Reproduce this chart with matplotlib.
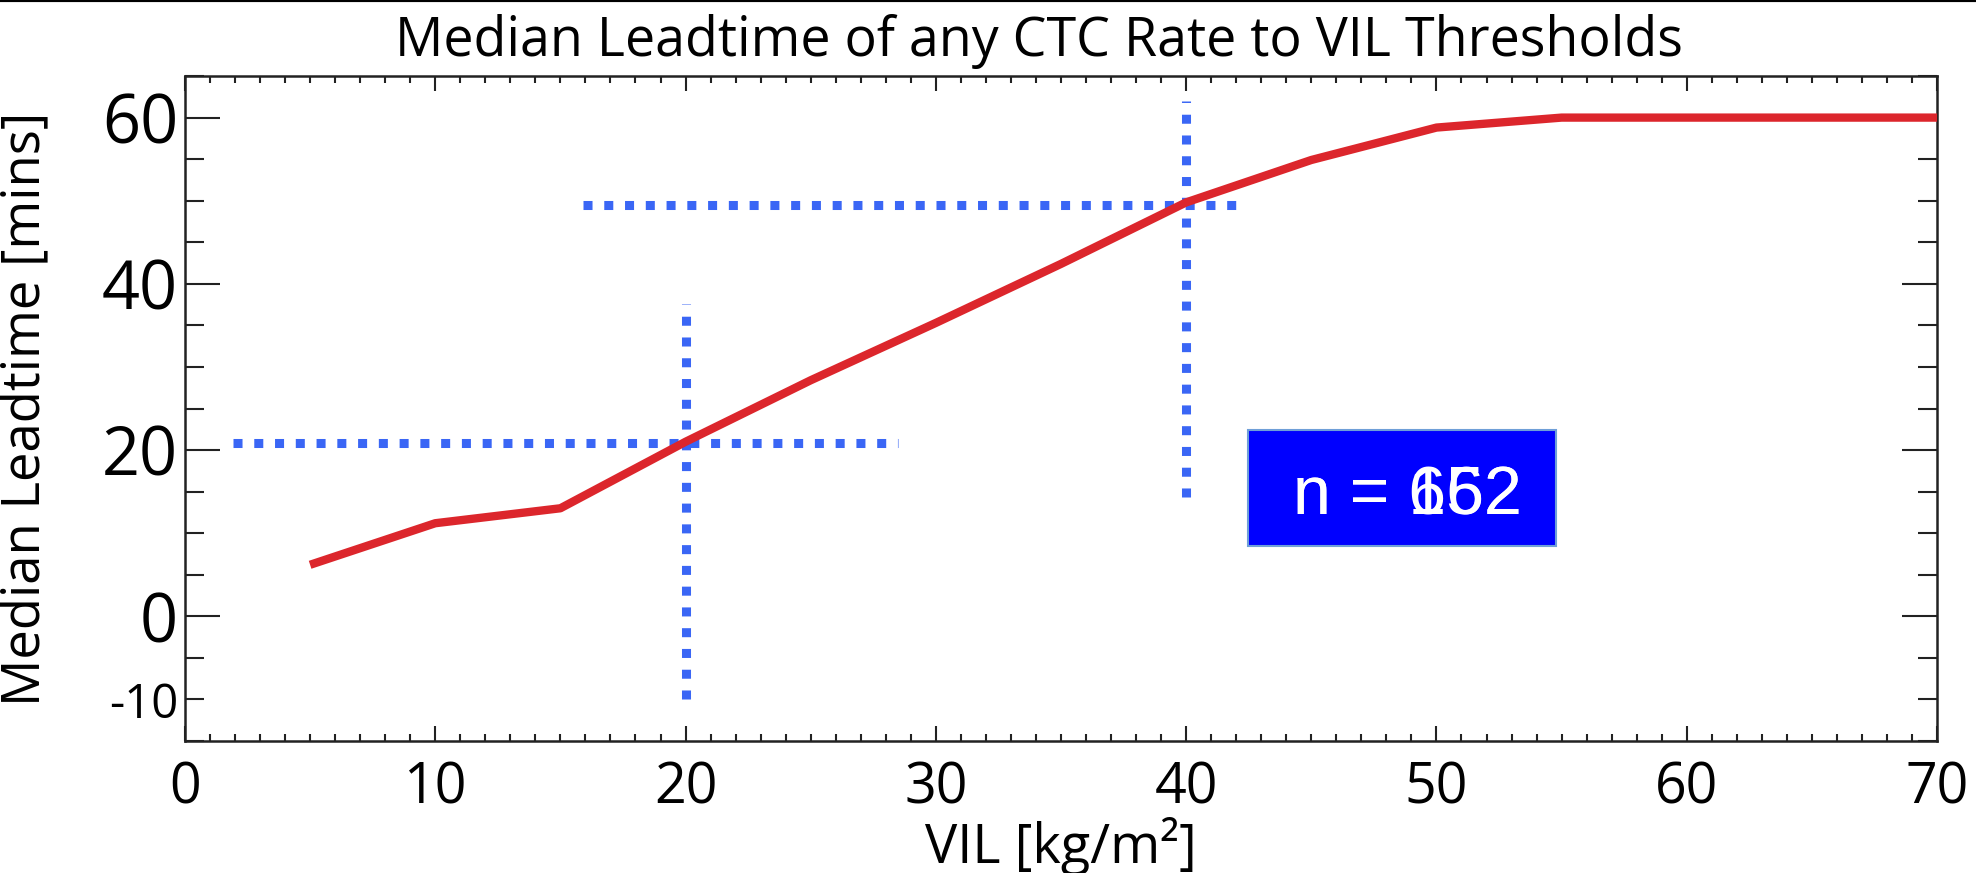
import numpy as np
import matplotlib
matplotlib.use('Agg')
import matplotlib.pyplot as plt
from matplotlib.patches import Rectangle
from matplotlib.lines import Line2D

# median lead time curve
vil = [5, 10, 15, 20, 25, 30, 35, 40, 45, 50, 55, 60, 65, 70]
leadtime = [6.2, 11.2, 13.0, 21.0, 28.4, 35.3, 42.4, 49.8, 54.9, 58.8, 60.0, 60.0, 60.0, 60.0]

# dotted guide lines at the two thresholds
guide_x = [20, 40]
guide_y = [20.8, 49.5]
vert_span = [(-10, 37.6), (14.3, 62.0)]
horiz_span = [(1.9, 28.5), (15.9, 42.4)]

n_labels = ['n = 652', 'n = 162']

plt.rcParams['font.family'] = ['Open Sans', 'DejaVu Sans']

fig = plt.figure(figsize=(19.76, 8.73), dpi=100)
ax = fig.add_axes([0.0936, 0.1512, 0.8867, 0.7617])

red = '#dc262c'
blue = '#3a66f5'

for x, (y0, y1) in zip(guide_x, vert_span):
    ax.plot([x, x], [y0, y1], color=blue, lw=6.5, dashes=(1, 1.3),
            solid_capstyle='butt', dash_capstyle='butt', zorder=2)
for y, (x0, x1) in zip(guide_y, horiz_span):
    ax.plot([x0, x1], [y, y], color=blue, lw=6.5, dashes=(1, 1.3),
            solid_capstyle='butt', dash_capstyle='butt', zorder=2)

ax.plot(vil, leadtime, color=red, lw=6, solid_capstyle='butt', zorder=3,
        clip_on=False)

ax.set_xlim(0, 70)
ax.set_ylim(-15, 65)

ax.set_xticks(np.arange(0, 71, 10))
ax.set_xticks(np.arange(0, 71, 1), minor=True)
ax.set_yticks([0, 20, 40, 60])
minor_y = np.arange(-15, 66, 5)
ax.set_yticks(minor_y, labels=['-10' if v == -10 else '' for v in minor_y],
              minor=True)

ax.tick_params(axis='both', which='both', direction='in', top=True, right=True,
               width=1.5, color='#222222')
ax.tick_params(axis='x', which='major', length=11, labelsize=40, pad=14)
ax.tick_params(axis='x', which='minor', length=5)
ax.tick_params(axis='y', which='major', length=25, labelsize=48, pad=5)
ax.tick_params(axis='y', which='minor', length=14, labelsize=34, pad=5)
for sp in ax.spines.values():
    sp.set_linewidth(1.8)
    sp.set_color('#222222')

ax.set_xlabel('VIL [kg/m²]', fontsize=39, labelpad=0)
ax.set_ylabel('Median Leadtime [mins]', fontsize=38, labelpad=0)
ax.yaxis.set_label_coords(-0.075, 0.5)
fig.text(0.526, 0.952, 'Median Leadtime of any CTC Rate to VIL Thresholds',
         ha='center', va='center', fontsize=38.7)

# blue count box
ax.add_patch(Rectangle((0.6065, 0.2936), 0.176, 0.174, transform=ax.transAxes,
                       facecolor='#0000ff', edgecolor='#6f9fd8', lw=1.5, zorder=4))
for lab in n_labels:
    ax.text(0.6325, 0.367, lab, transform=ax.transAxes, color='white',
            fontsize=49, family=['Liberation Sans', 'DejaVu Sans'],
            ha='left', va='center', zorder=5)

fig.add_artist(Line2D([0, 1], [1, 1], color='black', lw=3))

fig.savefig('out.png', dpi=100)
